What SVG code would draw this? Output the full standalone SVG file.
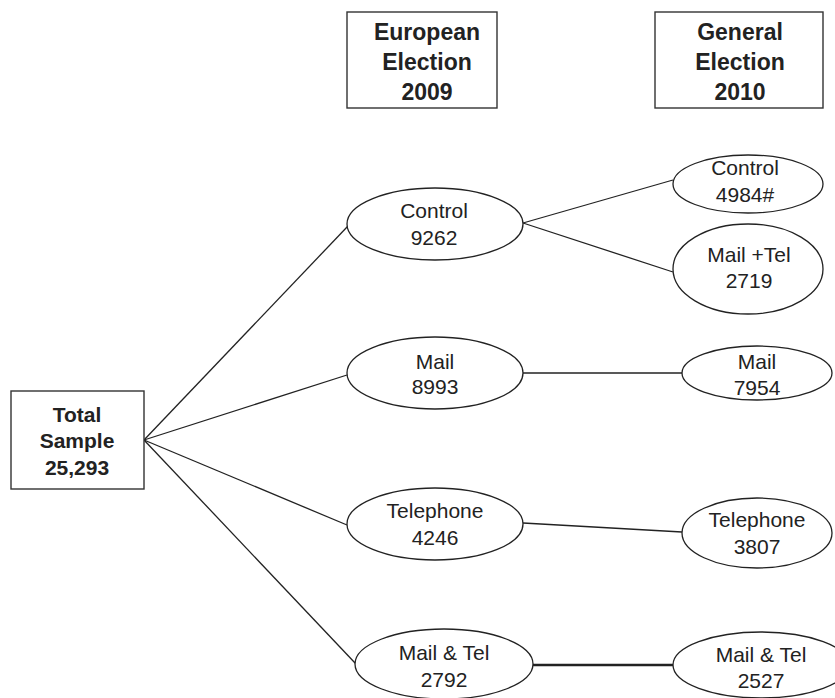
<svg xmlns="http://www.w3.org/2000/svg" width="835" height="698" viewBox="0 0 835 698">
<style>
.box{fill:#fff;stroke:#333;stroke-width:1.4}
.ell{fill:#fff;stroke:#222;stroke-width:1.3}
.hd{font-family:"Liberation Sans",Arial,sans-serif;font-weight:bold;font-size:23px;fill:#222;text-anchor:middle}
.tot{font-family:"Liberation Sans",Arial,sans-serif;font-weight:bold;font-size:21px;fill:#222;text-anchor:middle}
.lb{font-family:"Liberation Sans",Arial,sans-serif;font-size:21px;fill:#222;text-anchor:middle}
.ln{stroke:#222;stroke-width:1.3;fill:none}
</style>
<rect width="835" height="698" fill="#fff"/>
<g id="connectors">
<line class="ln" x1="144" y1="440" x2="348" y2="226"/>
<line class="ln" x1="144" y1="440" x2="347" y2="375"/>
<line class="ln" x1="144" y1="440" x2="347" y2="525"/>
<line class="ln" x1="144" y1="440" x2="356" y2="664"/>
<line class="ln" x1="523" y1="223" x2="673" y2="180"/>
<line class="ln" x1="523" y1="223" x2="673" y2="272"/>
<line class="ln" x1="523" y1="373" x2="682" y2="373"/>
<line class="ln" x1="523" y1="523" x2="682" y2="532"/>
<line class="ln" x1="533" y1="665" x2="673" y2="665" style="stroke-width:2.6"/>
</g>
<g id="hdr-european">
<rect class="box" x="347" y="12" width="150" height="96"/>
<text class="hd" x="427" y="40">European</text>
<text class="hd" x="427" y="70">Election</text>
<text class="hd" x="427" y="100">2009</text>
</g>
<g id="hdr-general">
<rect class="box" x="655" y="12" width="168" height="96"/>
<text class="hd" x="740" y="40">General</text>
<text class="hd" x="740" y="70">Election</text>
<text class="hd" x="740" y="100">2010</text>
</g>
<g id="total">
<rect class="box" x="11" y="391" width="133" height="98"/>
<text class="tot" x="77" y="422">Total</text>
<text class="tot" x="77" y="448">Sample</text>
<text class="tot" x="77" y="475">25,293</text>
</g>
<g id="eu-control">
<ellipse class="ell" cx="435" cy="224" rx="88" ry="36"/>
<text class="lb" x="434" y="218">Control</text>
<text class="lb" x="434" y="245">9262</text>
</g>
<g id="eu-mail">
<ellipse class="ell" cx="435" cy="373" rx="88" ry="36"/>
<text class="lb" x="435" y="369">Mail</text>
<text class="lb" x="435" y="394">8993</text>
</g>
<g id="eu-tel">
<ellipse class="ell" cx="435" cy="524" rx="88" ry="36"/>
<text class="lb" x="435" y="518">Telephone</text>
<text class="lb" x="435" y="545">4246</text>
</g>
<g id="eu-mailtel">
<ellipse class="ell" cx="444" cy="664" rx="89" ry="35"/>
<text class="lb" x="444" y="660">Mail &amp; Tel</text>
<text class="lb" x="444" y="687">2792</text>
</g>
<g id="ge-control">
<ellipse class="ell" cx="748" cy="184" rx="75" ry="29"/>
<text class="lb" x="745" y="175">Control</text>
<text class="lb" x="745" y="202">4984#</text>
</g>
<g id="ge-mailtel-plus">
<ellipse class="ell" cx="748" cy="269" rx="75" ry="45"/>
<text class="lb" x="749" y="262">Mail +Tel</text>
<text class="lb" x="749" y="288">2719</text>
</g>
<g id="ge-mail">
<ellipse class="ell" cx="757" cy="373" rx="75" ry="27"/>
<text class="lb" x="757" y="369">Mail</text>
<text class="lb" x="757" y="395">7954</text>
</g>
<g id="ge-tel">
<ellipse class="ell" cx="757" cy="533" rx="75" ry="35"/>
<text class="lb" x="757" y="527">Telephone</text>
<text class="lb" x="757" y="554">3807</text>
</g>
<g id="ge-mailtel">
<ellipse class="ell" cx="761" cy="665" rx="88" ry="33"/>
<text class="lb" x="761" y="662">Mail &amp; Tel</text>
<text class="lb" x="761" y="688">2527</text>
</g>
</svg>
